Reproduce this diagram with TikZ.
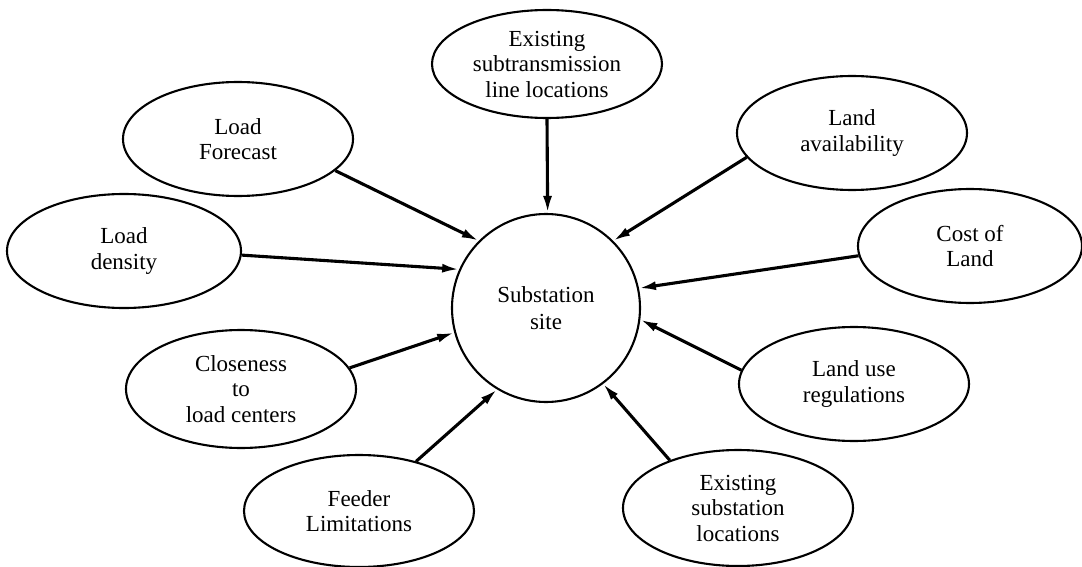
\documentclass[tikz,border=0pt]{standalone}
\usepackage{fontspec}
\setmainfont{Liberation Serif}
\usetikzlibrary{shapes.geometric,arrows.meta}
\begin{document}
\begin{tikzpicture}[x=1pt,y=-1pt,
  factor/.style={ellipse,draw,line width=2.1pt,minimum width=230pt,minimum height=114pt,
    inner sep=0pt,align=center,font=\fontsize{23}{25.5}\selectfont},
  hub/.style={circle,draw,line width=2.1pt,minimum size=188pt,inner sep=0pt,
    align=center,font=\fontsize{23}{27}\selectfont},
  arr/.style={line width=3.1pt,-{Latex[length=17pt,width=9pt]}}]
\useasboundingbox (0,0) rectangle (1082,567);
\clip (0,0) rectangle (1082,567);

% centre
\node[hub] (site) at (546,308) {Substation\\site};

% influencing factors
\node[factor,minimum height=108pt] (sub) at (547,64) {Existing\\subtransmission\\line locations};
\node[factor] (lf)  at (238,139) {Load\\Forecast};
\node[factor] (la)  at (852,133) {Land\\availability};
\node[factor,minimum width=234pt] (ld)  at (124,251) {Load\\density};
\node[factor,minimum width=224pt] (cl)  at (970,246) {Cost of\\Land};
\node[factor,minimum height=118pt] (cls) at (241,389) {Closeness\\to\\load centers};
\node[factor] (lu)  at (854,384) {Land use\\regulations};
\node[factor,minimum height=112pt] (fl)  at (359,511) {Feeder\\Limitations};
\node[factor,minimum height=116pt] (es)  at (738,508) {Existing\\substation\\locations};

% connectors into the site
\draw[arr] (sub.-90) -- (site.89);
\draw[arr] (lf.-18)  -- (site.135);
\draw[arr] (ld.-2)   -- (site.156);
\draw[arr] (la.193)  -- (site.45);
\draw[arr] (cl.185)  -- (site.12);
\draw[arr] (lu.173)  -- (site.-7);
\draw[arr] (es.145)  -- (site.-53);
\draw[arr] (cls.11)  -- (site.195);
\draw[arr] (fl.41)   -- (site.239);
\end{tikzpicture}
\end{document}
